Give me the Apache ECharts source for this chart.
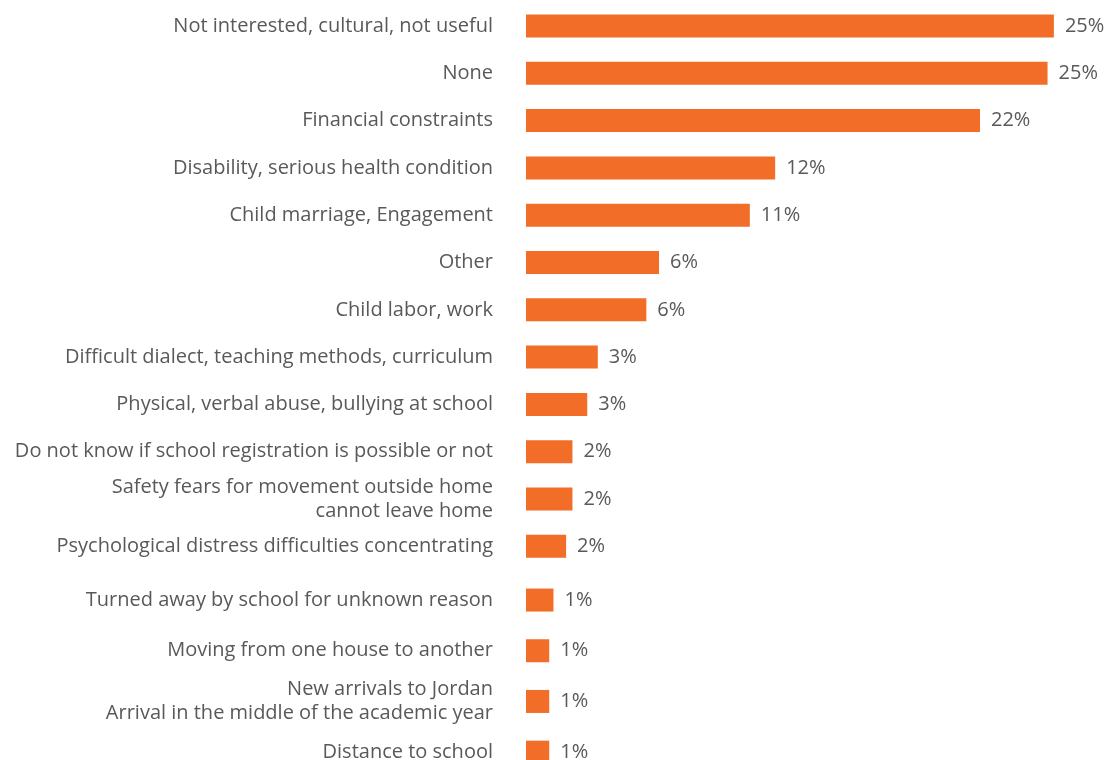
<!DOCTYPE html>
<html>
<head>
<meta charset="utf-8">
<script src="https://cdn.jsdelivr.net/npm/echarts@6/dist/echarts.min.js"></script>
<style>
html,body{margin:0;padding:0;background:#fff;}
#chart{width:1107px;height:760px;}
</style>
</head>
<body>
<div id="chart"></div>
<script>
const categories = [
  "Not interested, cultural, not useful",
  "None",
  "Financial constraints",
  "Disability, serious health condition",
  "Child marriage, Engagement",
  "Other",
  "Child labor, work",
  "Difficult dialect, teaching methods, curriculum",
  "Physical, verbal abuse, bullying at school",
  "Do not know if school registration is possible or not",
  "Safety fears for movement outside home\ncannot leave home",
  "Psychological distress difficulties concentrating",
  "Turned away by school for unknown reason",
  "Moving from one house to another",
  "New arrivals to Jordan\nArrival in the middle of the academic year",
  "Distance to school"
];
const values = [25.0, 24.7, 21.5, 11.8, 10.6, 6.3, 5.7, 3.4, 2.9, 2.2, 2.2, 1.9, 1.3, 1.1, 1.1, 1.1];

// the reference leaves slightly wider rows for the last four categories
const split = 12;
const groups = [
  { cats: categories.slice(0, split), vals: values.slice(0, split), top: 2.35, height: 567.6 },
  { cats: categories.slice(split), vals: values.slice(split), top: 574.7, height: 202.8 }
];

const font = 'Open Sans';
const textColor = '#595959';

const chart = echarts.init(document.getElementById('chart'));
chart.setOption({
  animation: false,
  backgroundColor: '#ffffff',
  grid: groups.map(g => ({
    left: 526, right: 32, top: g.top, height: g.height,
    containLabel: false, outerBoundsMode: 'none'
  })),
  xAxis: groups.map((g, i) => ({
    type: 'value', min: 0, max: 26, gridIndex: i, show: false
  })),
  yAxis: groups.map((g, i) => ({
    type: 'category',
    gridIndex: i,
    inverse: true,
    data: g.cats,
    axisLine: { show: false },
    axisTick: { show: false },
    splitLine: { show: false },
    axisLabel: {
      margin: 33,
      fontFamily: font,
      fontSize: 20,
      lineHeight: 24,
      color: textColor,
      align: 'right'
    }
  })),
  series: groups.map((g, i) => ({
    type: 'bar',
    xAxisIndex: i,
    yAxisIndex: i,
    data: g.vals,
    barWidth: 23,
    itemStyle: { color: '#F26D27' },
    label: {
      show: true,
      position: 'right',
      distance: 11,
      fontFamily: font,
      fontSize: 20,
      color: textColor,
      formatter: p => Math.round(p.value) + '%'
    }
  }))
});
</script>
</body>
</html>
